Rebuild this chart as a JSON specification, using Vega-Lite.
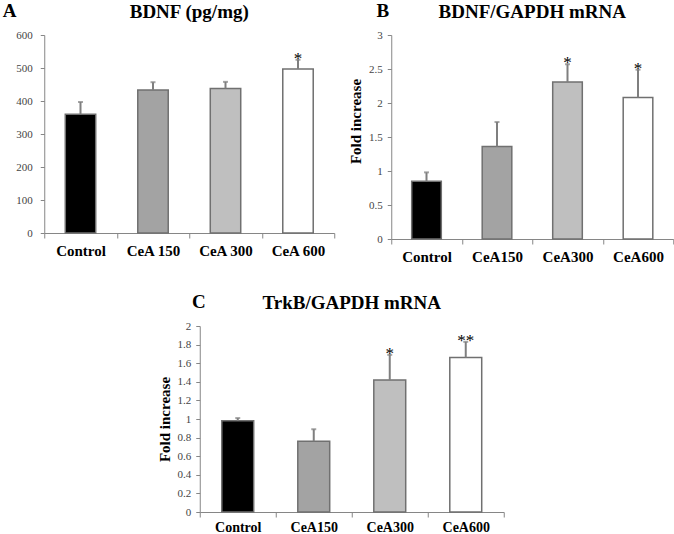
{
  "$schema": "https://vega.github.io/schema/vega-lite/v6.json",
  "background": "white",
  "padding": {"left": 2, "top": 2, "right": 0, "bottom": 0},
  "datasets": {
    "bdnf": [
      {"group": "Control", "mean": 360, "upper": 397, "sig": ""},
      {"group": "CeA 150", "mean": 433, "upper": 457, "sig": ""},
      {"group": "CeA 300", "mean": 438, "upper": 458, "sig": ""},
      {"group": "CeA 600", "mean": 497, "upper": 525, "sig": "*"}
    ],
    "bdnfmrna": [
      {"group": "Control", "mean": 0.85, "upper": 0.98, "sig": ""},
      {"group": "CeA150", "mean": 1.36, "upper": 1.72, "sig": ""},
      {"group": "CeA300", "mean": 2.31, "upper": 2.57, "sig": "*"},
      {"group": "CeA600", "mean": 2.08, "upper": 2.49, "sig": "*"}
    ],
    "trkb": [
      {"group": "Control", "mean": 0.98, "upper": 1.01, "sig": ""},
      {"group": "CeA150", "mean": 0.76, "upper": 0.89, "sig": ""},
      {"group": "CeA300", "mean": 1.42, "upper": 1.69, "sig": "*"},
      {"group": "CeA600", "mean": 1.66, "upper": 1.83, "sig": "**"}
    ]
  },
  "config": {
    "view": {"stroke": null},
    "font": "Liberation Serif",
    "title": {"font": "Liberation Serif", "fontSize": 19, "fontWeight": "bold", "color": "black"},
    "axis": {"domainColor": "#868686", "tickColor": "#868686", "grid": false, "labelFont": "Liberation Serif", "titleFont": "Liberation Serif", "labelOverlap": false},
    "axisX": {"labelFontSize": 15, "labelFontWeight": "bold", "labelColor": "black", "tickSize": 5, "labelPadding": 5, "labelAngle": 0, "tickBand": "extent", "title": null, "labelOverlap": false},
    "axisY": {"labelFontSize": 11, "labelColor": "#444444", "tickSize": 4, "labelPadding": 5, "titleFontSize": 15, "titleColor": "black", "titleFontWeight": "bold", "titlePadding": 5, "labelExpr": "'' + datum.value", "labelOverlap": false, "tickCount": 50}
  },
  "spacing": 29,
  "center": true,
  "resolve": {"scale": {"x": "independent", "y": "independent", "fill": "independent"}},
  "vconcat": [
    {
      "spacing": 13,
      "resolve": {"scale": {"x": "independent", "y": "independent", "fill": "independent"}},
      "hconcat": [
        {
          "title": {"text": "A", "anchor": "start", "fontSize": 19, "dx": -13, "offset": -18},
          "vconcat": [
            {
              "title": {"text": "BDNF (pg/mg)", "offset": 7},
              "width": 290,
              "height": 198,
              "data": {"name": "bdnf"},
              "encoding": {"x": {"field": "group", "type": "nominal", "sort": null, "scale": {"paddingInner": 0, "paddingOuter": 0}}},
              "layer": [
                {
                  "mark": {"type": "bar", "width": {"band": 0.42}, "stroke": "#707070", "strokeWidth": 1.5},
                  "encoding": {
                    "y": {"field": "mean", "type": "quantitative", "scale": {"domain": [0, 600], "nice": false}, "axis": {"values": [0, 100, 200, 300, 400, 500, 600], "tickCount": 50, "title": null, "labelPadding": 8, "labelOverlap": false}},
                    "fill": {"field": "group", "type": "nominal", "scale": {"domain": ["Control", "CeA 150", "CeA 300", "CeA 600"], "range": ["#000000", "#a3a3a3", "#bfbfbf", "#ffffff"]}, "legend": null}
                  }
                },
                {
                  "mark": {"type": "rule", "color": "#7f7f7f", "strokeWidth": 2},
                  "encoding": {"y": {"field": "mean", "type": "quantitative"}, "y2": {"field": "upper"}}
                },
                {
                  "mark": {"type": "tick", "color": "#7f7f7f", "thickness": 2, "size": 5},
                  "encoding": {"y": {"field": "upper", "type": "quantitative"}}
                },
                {
                  "mark": {"type": "text", "fontSize": 17, "dy": 4, "baseline": "alphabetic", "color": "#000000"},
                  "encoding": {"y": {"field": "upper", "type": "quantitative"}, "text": {"field": "sig"}}
                }
              ]
            }
          ]
        },
        {
          "title": {"text": "B", "anchor": "start", "fontSize": 19, "dx": 28, "offset": -18},
          "vconcat": [
            {
              "title": {"text": "BDNF/GAPDH mRNA", "offset": 7},
              "width": 282,
              "height": 204,
              "data": {"name": "bdnfmrna"},
              "encoding": {"x": {"field": "group", "type": "nominal", "sort": null, "scale": {"paddingInner": 0, "paddingOuter": 0}}},
              "layer": [
                {
                  "mark": {"type": "bar", "width": {"band": 0.42}, "stroke": "#707070", "strokeWidth": 1.5},
                  "encoding": {
                    "y": {"field": "mean", "type": "quantitative", "scale": {"domain": [0, 3], "nice": false}, "axis": {"values": [0, 0.5, 1, 1.5, 2, 2.5, 3], "tickCount": 50, "title": "Fold increase", "titleY": 86, "labelOverlap": false}},
                    "fill": {"field": "group", "type": "nominal", "scale": {"domain": ["Control", "CeA150", "CeA300", "CeA600"], "range": ["#000000", "#a3a3a3", "#bfbfbf", "#ffffff"]}, "legend": null}
                  }
                },
                {
                  "mark": {"type": "rule", "color": "#7f7f7f", "strokeWidth": 2},
                  "encoding": {"y": {"field": "mean", "type": "quantitative"}, "y2": {"field": "upper"}}
                },
                {
                  "mark": {"type": "tick", "color": "#7f7f7f", "thickness": 2, "size": 5},
                  "encoding": {"y": {"field": "upper", "type": "quantitative"}}
                },
                {
                  "mark": {"type": "text", "fontSize": 17, "dy": 4, "baseline": "alphabetic", "color": "#000000"},
                  "encoding": {"y": {"field": "upper", "type": "quantitative"}, "text": {"field": "sig"}}
                }
              ]
            }
          ]
        }
      ]
    },
    {
      "title": {"text": "\u00a0", "anchor": "end", "fontSize": 19, "dx": 14, "offset": -30},
      "vconcat": [
        {
          "title": {"text": "C", "anchor": "start", "fontSize": 19, "dx": 35, "offset": -18},
          "vconcat": [
            {
              "title": {"text": "TrkB/GAPDH mRNA", "offset": 7},
              "width": 304,
              "height": 186,
              "data": {"name": "trkb"},
              "encoding": {"x": {"field": "group", "type": "nominal", "sort": null, "scale": {"paddingInner": 0, "paddingOuter": 0}, "axis": {"labelFontSize": 14, "labelPadding": 3, "labelOverlap": false}}},
              "layer": [
                {
                  "mark": {"type": "bar", "width": {"band": 0.42}, "stroke": "#707070", "strokeWidth": 1.5},
                  "encoding": {
                    "y": {"field": "mean", "type": "quantitative", "scale": {"domain": [0, 2], "nice": false}, "axis": {"values": [0, 0.2, 0.4, 0.6, 0.8, 1, 1.2, 1.4, 1.6, 1.8, 2], "tickCount": 50, "title": "Fold increase", "labelOverlap": false}},
                    "fill": {"field": "group", "type": "nominal", "scale": {"domain": ["Control", "CeA150", "CeA300", "CeA600"], "range": ["#000000", "#a3a3a3", "#bfbfbf", "#ffffff"]}, "legend": null}
                  }
                },
                {
                  "mark": {"type": "rule", "color": "#7f7f7f", "strokeWidth": 2},
                  "encoding": {"y": {"field": "mean", "type": "quantitative"}, "y2": {"field": "upper"}}
                },
                {
                  "mark": {"type": "tick", "color": "#7f7f7f", "thickness": 2, "size": 5},
                  "encoding": {"y": {"field": "upper", "type": "quantitative"}}
                },
                {
                  "mark": {"type": "text", "fontSize": 17, "dy": 4, "baseline": "alphabetic", "color": "#000000"},
                  "encoding": {"y": {"field": "upper", "type": "quantitative"}, "text": {"field": "sig"}}
                }
              ]
            }
          ]
        }
      ]
    }
  ]
}
